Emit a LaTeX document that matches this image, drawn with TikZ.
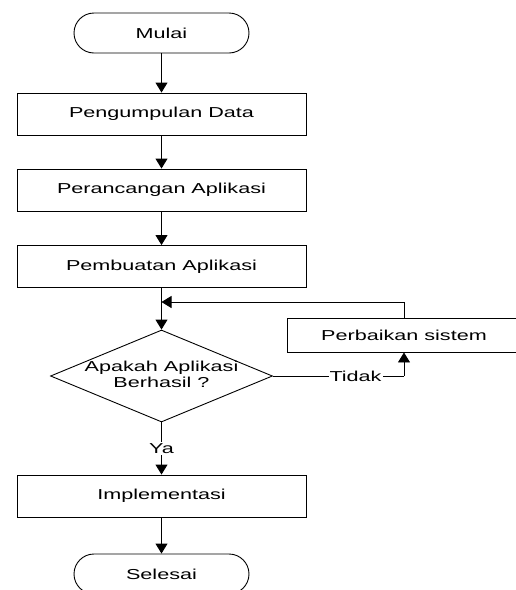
\documentclass[tikz,border=0pt]{standalone}
\usepackage{fontspec}
\setmainfont{Liberation Sans}[FakeStretch=1.5]
\usetikzlibrary{arrows.meta,shapes.geometric}

\tikzset{
  txt/.style={font=\fontsize{14.4}{16}\selectfont},
  base/.style={draw, line width=0.9pt, txt, inner sep=0pt},
  terminal/.style={base, rounded corners=20pt, minimum width=175pt, minimum height=40pt},
  process/.style={base, minimum width=289pt, minimum height=42pt},
  decision/.style={base, diamond, minimum width=222pt, minimum height=92pt},
  label/.style={txt, fill=white, inner sep=1pt},
  flow/.style={line width=0.9pt, -{Triangle[length=10pt,width=12pt]}},
  link/.style={line width=0.9pt}
}

\begin{document}
\begin{tikzpicture}[x=1pt, y=-1pt]
  \useasboundingbox (0,0) rectangle (515,590);

  % main column
  \node[terminal] (start) at (161.5,33) {Mulai};
  \node[process] (collect) at (161.5,114) {Pengumpulan Data};
  \node[process] (design) at (161.5,190) {Perancangan Aplikasi};
  \node[process] (build) at (161.5,266.5) {Pembuatan Aplikasi};
  \node[decision] (check) at (161.5,376) {};
  \node[txt, align=center, inner sep=0pt] (checktext) at (161.5,374) {Apakah Aplikasi\\Berhasil ?};
  \node[process] (deploy) at (161.5,496) {Implementasi};
  \node[terminal] (finish) at (161.5,574) {Selesai};

  % repair loop
  \node[base, minimum width=234pt, minimum height=34pt] (repair) at (404,335) {Perbaikan sistem};
  \coordinate (merge) at (161.5,302);

  % connectors
  \draw[flow] (start) -- (collect);
  \draw[flow] (collect) -- (design);
  \draw[flow] (design) -- (build);
  \draw[flow] (build) -- (check.north);
  \draw[flow] (repair.north) |- (merge);
  \draw[link] (check.east) -- node[label, pos=0.63] {Tidak} (check.east -| repair.south);
  \draw[flow] (check.east -| repair.south) -- (repair.south);
  \draw[flow] (check.south) -- node[label] {Ya} (deploy.north);
  \draw[flow] (deploy) -- (finish);
\end{tikzpicture}
\end{document}
